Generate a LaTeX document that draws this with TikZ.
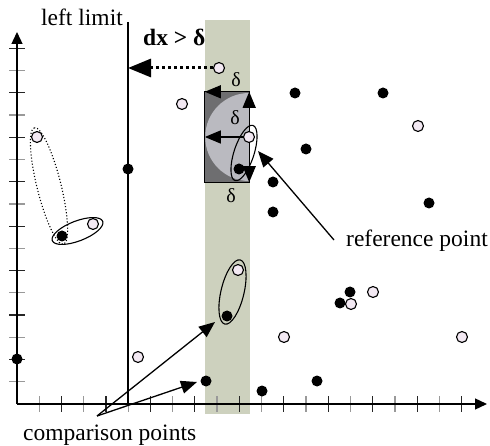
\documentclass[tikz,border=0pt]{standalone}
\usepackage{fontspec}
\setmainfont{Liberation Serif}
\usepackage{tikz}
\usetikzlibrary{shapes.geometric, arrows.meta, positioning}

\definecolor{stripgray}{RGB}{205,209,190}
\definecolor{boxdark}{RGB}{110,110,112}
\definecolor{boxlight}{RGB}{186,186,192}
\definecolor{openfill}{RGB}{243,233,243}

\begin{document}
\begin{tikzpicture}[
    x=1pt, y=-1pt,
    blackpt/.style={circle, fill=black, inner sep=0pt, minimum size=11pt},
    openpt/.style={circle, draw=black, line width=1.1pt, fill=openfill, inner sep=0pt, minimum size=11pt},
    pair/.style={ellipse, draw, line width=1.1pt, inner sep=0pt},
    bigtip/.style={-{Triangle[length=16pt, width=13pt]}, line width=1.3pt},
    lbl/.style={font=\fontsize{23.5}{26}\selectfont, inner sep=0pt, anchor=base west},
    dlt/.style={font=\fontsize{20}{22}\selectfont, inner sep=0pt}
]
\useasboundingbox (0,0) rectangle (490,446);

% search strip
\fill[stripgray] (205,20) rectangle (250,414);

% axes
\coordinate (O) at (17,404);
\coordinate (xend) at (487,404);
\coordinate (yend) at (17,32);
\foreach \k in {1,...,20} {
  \pgfmathsetmacro{\tx}{17+22.23*\k}
  \ifodd\k \def\tc{black!40}\else\def\tc{black!85}\fi
  \draw[\tc, line width=1.2pt] (\tx,396) -- (\tx,412);
}
\foreach \k in {1,...,16} {
  \pgfmathsetmacro{\ty}{404-22.23*\k}
  \ifodd\k \def\tc{black!40}\else\def\tc{black!85}\fi
  \draw[\tc, line width=1.2pt] (9,\ty) -- (25,\ty);
}
\draw[line width=1.3pt, -{Triangle[length=12pt, width=11pt]}] (O) -- (xend);
\draw[line width=1.3pt, -{Triangle[length=12pt, width=11pt]}] (O) -- (yend);

% left limit
\coordinate (lltop) at (128,22);
\coordinate (llbot) at (128,404);
\draw[line width=1.3pt] (lltop) -- (llbot);
\node[lbl] (limitlbl) at (41,26) {left limit};

% delta window around the reference point
\node[fill=boxdark, minimum width=44pt, minimum height=90pt, inner sep=0pt] (win) at (227,137) {};
\begin{scope}
  \clip (win.north west) rectangle (win.south east);
  \fill[boxlight] (win.east) circle[radius=44pt];
\end{scope}
\draw[line width=1.2pt] (win.north west) rectangle (win.south east);
\draw[bigtip] (win.east) -- (win.west);
\draw[bigtip] (win.east) -- (win.north east);
\draw[bigtip] (win.east) -- (win.south east);
\draw[bigtip] (win.north east) -- (win.north west);
\node[dlt] (dtop) at (236,80) {δ};
\node[dlt] (dmid) at (235,118) {δ};
\node[dlt] (dbot) at (231,196) {δ};

% black points
\node[blackpt] (b1) at (17,359) {};
\node[blackpt] (b2) at (128,169) {};
\node[blackpt] (b3) at (62,236) {};
\node[blackpt] (b4) at (206,381) {};
\node[blackpt] (b5) at (227,316) {};
\node[blackpt] (b6) at (239,169) {};
\node[blackpt] (b7) at (262,391) {};
\node[blackpt] (b8) at (317,381) {};
\node[blackpt] (b9) at (295,93) {};
\node[blackpt] (b10) at (383,93) {};
\node[blackpt] (b11) at (306,149) {};
\node[blackpt] (b12) at (273,182) {};
\node[blackpt] (b13) at (273,212) {};
\node[blackpt] (b14) at (429,203) {};
\node[blackpt] (b15) at (350,292) {};
\node[blackpt] (b16) at (340,303) {};

% open points
\node[openpt] (q1) at (219,68) {};
\node[openpt] (q2) at (182,104) {};
\node[openpt] (ref) at (249,137) {};
\node[openpt] (q3) at (37,137) {};
\node[openpt] (q4) at (93,224) {};
\node[openpt] (q5) at (238,270) {};
\node[openpt] (q6) at (138,357) {};
\node[openpt] (q7) at (284,337) {};
\node[openpt] (q8) at (351,304) {};
\node[openpt] (q9) at (373,292) {};
\node[openpt] (q10) at (462,337) {};
\node[openpt] (q11) at (418,126) {};

% pairs
\node[pair, minimum width=58pt, minimum height=20pt, rotate=72] (refpair) at (244,153) {};
\node[pair, minimum width=66pt, minimum height=23pt, rotate=76.5] (strippair) at (232.5,292) {};
\node[pair, minimum width=54pt, minimum height=20pt, rotate=21] (leftpair) at (77.5,231) {};
\node[pair, dotted, minimum width=120pt, minimum height=24pt, rotate=104] (dotpair) at (49,186) {};

% dx > delta
\draw[line width=3pt, dash pattern=on 3pt off 3pt, -{Triangle[length=23pt, width=18pt]}] (q1) -- (q1 -| lltop);
\node[lbl] (dxlbl) at (143,46) {\textbf{dx > δ}};

% labels
\node[lbl] (reflbl) at (346,247) {reference point};
\coordinate (reftail) at (334,240);
\coordinate (reftip) at (258,151);
\draw[bigtip] (reftail) -- (reftip);

\node[lbl] (cmplbl) at (23,440) {comparison points};
\coordinate (cmptail) at (97,416);
\coordinate (cmptipa) at (215,322);
\coordinate (cmptipb) at (197,382);
\draw[bigtip] (cmptail) -- (cmptipa);
\draw[bigtip] (cmptail) -- (cmptipb);
\end{tikzpicture}
\end{document}
